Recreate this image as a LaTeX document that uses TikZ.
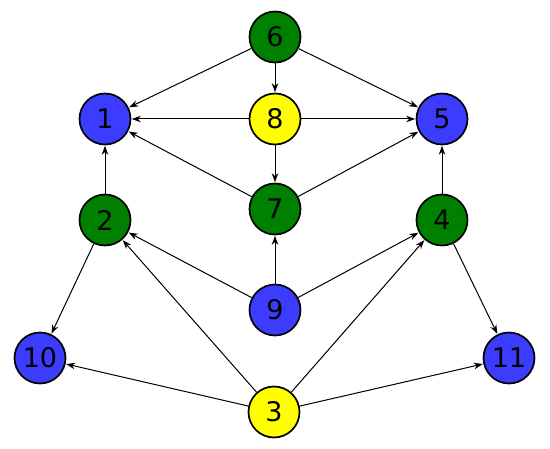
\documentclass[tikz,border=0pt]{standalone}
\usepackage{fontspec}
\setmainfont{DejaVu Sans}
\usetikzlibrary{arrows.meta}
\definecolor{ngreen}{RGB}{0,128,0}
\definecolor{nblue}{RGB}{60,60,255}
\definecolor{nyellow}{RGB}{255,255,0}
\begin{document}
\begin{tikzpicture}[x=1pt,y=-1pt,
  vtx/.style={circle,draw=black,line width=1.7pt,minimum size=51pt,inner sep=0pt,font=\fontsize{27}{27}\selectfont},
  g/.style={vtx,fill=ngreen},
  b/.style={vtx,fill=nblue},
  yl/.style={vtx,fill=nyellow},
  edge/.style={-{Stealth[length=9pt,width=6.5pt]},line width=1pt,shorten >=0.5pt}]
\useasboundingbox (0,0) rectangle (550,449);
\node[g]  (n6)  at (275,37)  {6};
\node[b]  (n1)  at (105,119) {1};
\node[yl] (n8)  at (275,119) {8};
\node[b]  (n5)  at (442,119) {5};
\node[g]  (n2)  at (105,220) {2};
\node[g]  (n7)  at (275,209) {7};
\node[g]  (n4)  at (442,220) {4};
\node[b]  (n9)  at (275,310) {9};
\node[b]  (n10) at (40,358)  {10};
\node[b]  (n11) at (509,358) {11};
\node[yl] (n3)  at (274,412) {3};
\draw[edge] (n6) -- (n1);
\draw[edge] (n6) -- (n8);
\draw[edge] (n6) -- (n5);
\draw[edge] (n8) -- (n1);
\draw[edge] (n8) -- (n5);
\draw[edge] (n8) -- (n7);
\draw[edge] (n7) -- (n1);
\draw[edge] (n7) -- (n5);
\draw[edge] (n2) -- (n1);
\draw[edge] (n4) -- (n5);
\draw[edge] (n9) -- (n7);
\draw[edge] (n9) -- (n2);
\draw[edge] (n9) -- (n4);
\draw[edge] (n2) -- (n10);
\draw[edge] (n4) -- (n11);
\draw[edge] (n3) -- (n10);
\draw[edge] (n3) -- (n11);
\draw[edge] (n3) -- (n2);
\draw[edge] (n3) -- (n4);
\end{tikzpicture}
\end{document}
